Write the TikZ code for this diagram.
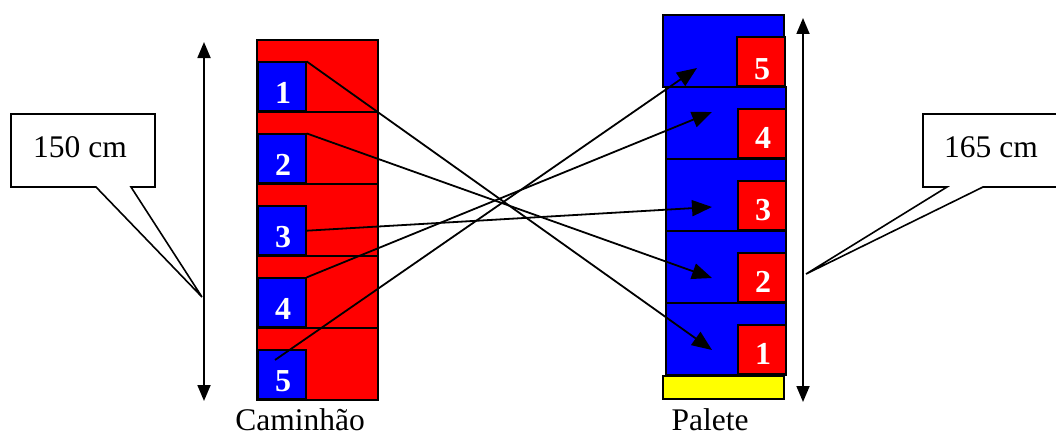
\documentclass[tikz,border=0pt]{standalone}
\usepackage{fontspec}
\setmainfont{Liberation Serif}
\usetikzlibrary{arrows.meta}
\definecolor{pblue}{RGB}{0,0,255}
\definecolor{pred}{RGB}{255,0,0}
\definecolor{pyellow}{RGB}{255,255,0}
\begin{document}
\begin{tikzpicture}[x=1pt,y=-1pt,
  outl/.style={draw=black,line width=1.6pt},
  redrow/.style={outl,fill=pred},
  bluerow/.style={outl,fill=pblue},
  numbox/.style={outl,minimum width=48pt,minimum height=49pt,inner sep=0pt,anchor=south west},
  bluebox/.style={numbox,fill=pblue},
  redbox/.style={numbox,fill=pred},
  num/.style={text=white,font=\fontsize{32}{36}\selectfont\bfseries,anchor=base,inner sep=0pt},
  lbl/.style={font=\fontsize{31.5}{36}\selectfont,inner sep=0pt},
  conn/.style={line width=1.8pt,-{Triangle[length=20pt,width=16pt]}},
  dim/.style={line width=1.8pt,{Triangle[length=16pt,width=13pt]}-{Triangle[length=16pt,width=13pt]}},
  callout/.style={draw=black,line width=1.6pt,fill=white,line join=miter}]
\useasboundingbox (0,0) rectangle (1056,436);
\begin{scope}
\clip (0,0) rectangle (1056,436);
% truck (left)
\foreach \i/\t in {1/40,2/112,3/184,4/256,5/328}{
  \draw[redrow] (257,\t) rectangle (378,\t+72);
}
\foreach \i/\b in {1/112,2/184,3/256,4/328,5/400}{
  \node[bluebox] (lb\i) at (257,\b) {};
  \node[num] (ln\i) at (283,\b-9) {\i};
}
% pallet (right)
\draw[bluerow] (663,15) rectangle (784,87);
\foreach \t in {87,159,231,303}{
  \draw[bluerow] (666,\t) rectangle (786,\t+72);
}
\draw[outl,fill=pyellow] (663,376) rectangle (784,399);
\node[redbox] (rb5) at (736,87) {};
\node[num] (rn5) at (762,79) {5};
\foreach \i/\b in {4/159,3/231,2/303,1/375}{
  \node[redbox] (rb\i) at (737,\b) {};
  \node[num] (rn\i) at (763,\b-11) {\i};
}
% targets
\coordinate (t1) at (712,350);
\coordinate (t2) at (712,278);
\coordinate (t3) at (712,207);
\coordinate (t4) at (712,112);
\coordinate (t5) at (697,68);
\coordinate (s5) at (275,360);
\draw[conn] (lb1.north east) -- (t1);
\draw[conn] (lb2.north east) -- (t2);
\draw[conn] (lb3.east) -- (t3);
\draw[conn] (lb4.north east) -- (t4);
\draw[conn] (s5) -- (t5);
% dimension arrows
\coordinate (la) at (204,42);
\coordinate (lb) at (204,401);
\coordinate (ra) at (803,18);
\coordinate (rb) at (803,402);
\draw[dim] (la) -- (lb);
\draw[dim] (ra) -- (rb);
% callouts
\coordinate (lp) at (202,297);
\coordinate (rp) at (806,274);
\draw[callout] (11,114) -- (155,114) -- (155,187) -- (131,187) -- (lp) -- (96,187) -- (11,187) -- cycle;
\draw[callout] (923,114) -- (1064,114) -- (1064,187) -- (983,187) -- (rp) -- (947,187) -- (923,187) -- cycle;
\node[lbl] (c150) at (80,147) {150 cm};
\node[lbl] (c165) at (991,147) {165 cm};
% labels
\node[lbl,anchor=base] (cam) at (300,430) {Caminhão};
\node[lbl,anchor=base] (pal) at (710,430) {Palete};
\end{scope}
\end{tikzpicture}
\end{document}
